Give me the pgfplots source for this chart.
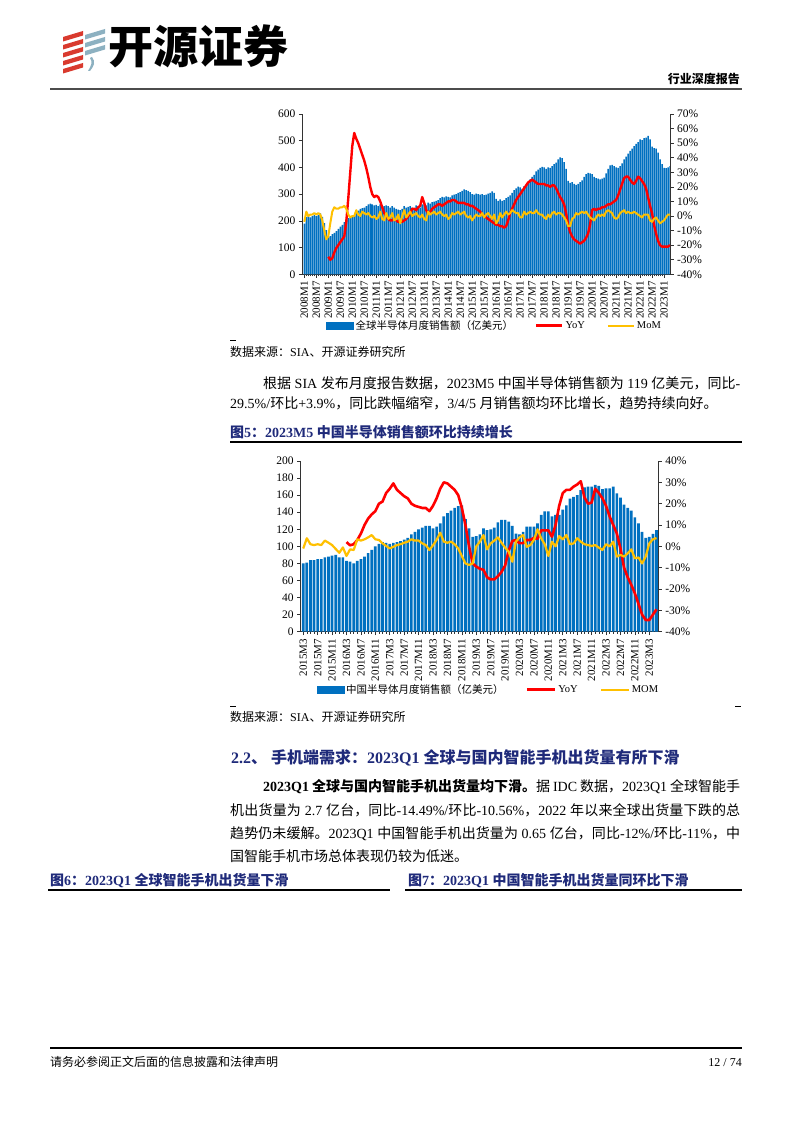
\documentclass[border=0pt]{standalone}
\usepackage{pgfplots}
\pgfplotsset{compat=1.18}
\usepackage{pgfplotstable}
\usepackage{fontspec}
\setmainfont{Liberation Serif}
\newfontfamily\cjk{Noto Sans CJK SC}
\newcommand\zh[1]{{\cjk #1}}
\newcommand\fs[1]{\fontsize{#1}{#1}\selectfont}
\XeTeXlinebreaklocale "zh"
\XeTeXlinebreakskip = 0pt plus 1pt
\definecolor{barblue}{HTML}{0070C0}
\definecolor{yoyred}{HTML}{FF0000}
\definecolor{momyel}{HTML}{FFC000}
\definecolor{navy}{HTML}{1F2A7A}
\definecolor{logored}{HTML}{D93A2E}
\definecolor{logoblue}{HTML}{8DB1C1}

\pgfplotstableread[row sep=\\]{
i s y m\\
0 190 nan -4\\ 1 215 nan 3\\ 2 218 nan 0\\ 3 213 nan 1\\ 4 218 nan 1\\ 5 222 nan 2\\ 6 218 nan 1\\ 7 222 nan 2\\ 8 228 nan 1\\ 9 215 nan -3\\ 10 192 nan -10\\ 11 165 nan -16\\
12 140 -28 -14\\ 13 143 -30 -5\\ 14 150 -29 3\\ 15 155 -25 6\\ 16 162 -22 5\\ 17 170 -20 5\\ 18 178 -18 6\\ 19 185 -16 6\\ 20 195 -14 7\\ 21 205 -4 5\\ 22 210 12 1\\ 23 218 30 -1\\
24 215 48 0\\ 25 220 57 0\\ 26 235 53 4\\ 27 238 50 1\\ 28 245 46 0\\ 29 248 42 3\\ 30 250 38 2\\ 31 255 33 1\\ 32 262 27 2\\ 33 265 20 0\\ 34 262 15 -1\\ 35 258 13 0\\
36 260 14 -2\\ 37 255 13 -1\\ 38 262 10 3\\ 39 258 6 -2\\ 40 255 2 -3\\ 41 258 0 2\\ 42 255 -2 -2\\ 43 250 -3 -1\\ 44 255 -3 2\\ 45 250 -2 -3\\ 46 245 -3 -2\\ 47 242 -4 1\\
48 240 -3 -5\\ 49 245 -4 0\\ 50 255 -3 4\\ 51 250 -2 -1\\ 52 252 0 1\\ 53 255 2 3\\ 54 250 5 0\\ 55 248 5 1\\ 56 258 4 2\\ 57 255 6 0\\ 58 250 7 -1\\ 59 262 13 1\\
60 262 9 -2\\ 61 258 4 -3\\ 62 268 2 3\\ 63 265 3 1\\ 64 270 5 2\\ 65 272 6 3\\ 66 275 7 1\\ 67 278 8 2\\ 68 285 8 3\\ 69 290 7 1\\ 70 288 8 0\\ 71 292 9 1\\
72 290 10 -2\\ 73 288 10 -1\\ 74 295 11 2\\ 75 298 11 1\\ 76 300 10 2\\ 77 305 9 3\\ 78 308 9 1\\ 79 312 9 2\\ 80 318 9 3\\ 81 315 8 0\\ 82 312 8 -1\\ 83 308 7 0\\
84 300 7 -3\\ 85 298 6 -1\\ 86 302 5 1\\ 87 300 4 0\\ 88 298 3 0\\ 89 300 1 2\\ 90 296 0 -1\\ 91 298 -1 1\\ 92 302 -2 2\\ 93 305 -3 0\\ 94 310 -4 -2\\ 95 305 -5 1\\
96 282 -6 -5\\ 97 275 -6 -3\\ 98 280 -7 2\\ 99 275 -7 -1\\ 100 278 -8 1\\ 101 285 -7 3\\ 102 290 -3 1\\ 103 295 2 2\\ 104 305 5 4\\ 105 315 8 3\\ 106 322 11 2\\ 107 328 13 2\\
108 325 15 -1\\ 109 320 17 -1\\ 110 330 19 3\\ 111 335 21 1\\ 112 345 23 2\\ 113 355 24 3\\ 114 365 25 2\\ 115 372 24 2\\ 116 385 23 4\\ 117 392 22 2\\ 118 398 22 1\\ 119 402 22 1\\
120 400 22 -1\\ 121 395 21 -2\\ 122 400 21 1\\ 123 398 20 -1\\ 124 405 21 2\\ 125 412 21 3\\ 126 418 19 1\\ 127 430 16 2\\ 128 438 13 2\\ 129 435 11 1\\ 130 420 8 -1\\ 131 395 2 -3\\
132 350 -6 -7\\ 133 342 -11 -7\\ 134 345 -14 -2\\ 135 338 -16 -1\\ 136 335 -17 2\\ 137 338 -18 1\\ 138 345 -19 2\\ 139 352 -18 3\\ 140 365 -17 2\\ 141 375 -15 3\\ 142 380 -12 1\\ 143 378 -6 -1\\
144 375 4 -2\\ 145 365 5 -3\\ 146 360 4 -1\\ 147 358 5 1\\ 148 355 5 0\\ 149 358 6 1\\ 150 362 6 0\\ 151 378 7 3\\ 152 395 8 4\\ 153 408 8 3\\ 154 410 9 2\\ 155 405 10 -1\\
156 400 11 -2\\ 157 398 14 -1\\ 158 405 18 2\\ 159 415 22 3\\ 160 430 26 4\\ 161 440 27 2\\ 162 452 27 3\\ 163 462 25 2\\ 164 470 23 2\\ 165 480 22 3\\ 166 488 24 2\\ 167 495 27 1\\
168 505 26 0\\ 169 502 24 -1\\ 170 510 22 1\\ 171 512 19 1\\ 172 518 13 1\\ 173 505 7 -3\\ 174 478 2 -4\\ 175 472 -6 -2\\ 176 470 -12 -1\\ 177 455 -17 -3\\ 178 430 -20 -5\\ 179 412 -21 -4\\
180 398 -21 -3\\ 181 397 -21 -1\\ 182 400 -21 1\\ 183 405 -20 1\\
}\glob

\pgfplotstableread[row sep=\\]{
i s y m\\
0 80 nan -1\\ 1 81 nan 3.8\\ 2 84 nan 1\\ 3 84 nan 0.6\\ 4 85 nan 1\\ 5 85 nan 0.6\\ 6 87 nan 2.7\\ 7 88 nan 1.7\\ 8 89 nan 0.6\\ 9 90 nan -1.2\\ 10 87 nan -3\\ 11 87 nan -0.5\\
12 83 2 -4.5\\ 13 82 0.5 -1.4\\ 14 80 1 -1.7\\ 15 83 3 3.3\\ 16 85 6 2.7\\ 17 88 10 3.3\\ 18 92 13 4.2\\ 19 96 15 5.3\\ 20 100 16.5 3.3\\ 21 103 20 3\\ 22 105 21 1.4\\ 23 104 25 0.2\\
24 103 27 -1\\ 25 104 29.5 -0.2\\ 26 105 26.5 0.6\\ 27 106 25 1\\ 28 108 23.5 1.7\\ 29 110 22.5 2.2\\ 30 114 20 3.3\\ 31 117 19 2.7\\ 32 120 18.5 2.7\\ 33 122 18 1.4\\ 34 124 18 0.6\\ 35 124 16.5 -1.7\\
36 121 19 0.5\\ 37 123 22.5 3\\ 38 127 27 6.4\\ 39 135 30 2.2\\ 40 139 29.5 1.7\\ 41 142 28 2.2\\ 42 145 26.5 1\\ 43 147 24 -1\\ 44 148 18 -4.5\\ 45 132 10 -8\\ 46 121 0 -8.7\\ 47 111 -8 -8\\
48 112 -9.5 0\\ 49 114 -10.5 2.2\\ 50 121 -11 5.3\\ 51 119 -14.5 -1.4\\ 52 120 -15.5 1.4\\ 53 122 -15.5 2.7\\ 54 128 -14 4.2\\ 55 131 -12 1.7\\ 56 131 -9 -0.6\\ 57 129 -2 -2.5\\ 58 124 2.5 -7.2\\ 59 115 3 2.2\\
60 114 1.5 4.2\\ 61 117 1.5 5.3\\ 62 123 3 -0.2\\ 63 123 3 0.6\\ 64 123 4 3\\ 65 127 3.5 8\\ 66 137 7.5 3.8\\ 67 141 7.5 1\\ 68 141 7.5 -4.5\\ 69 135 4.5 2.2\\ 70 137 10 0\\ 71 137 19 4.8\\
72 143 25 3.3\\ 73 148 26.5 5.3\\ 74 156 26.5 1\\ 75 158 28 1.4\\ 76 160 29 3.8\\ 77 166 30.5 2.2\\ 78 169 23 1\\ 79 170 20 0.6\\ 80 170 20.5 0.2\\ 81 172 27 0.6\\ 82 171 25 -0.6\\ 83 167 22.5 -1.7\\
84 168 19 1\\ 85 168 14 0\\ 86 170 10 2.2\\ 87 162 6 -4.8\\ 88 157 -1 -4\\ 89 149 -10 -4.8\\ 90 145 -14.5 -3.3\\ 91 142 -18 -1.4\\ 92 134 -22 -5.6\\ 93 127 -27 -5.2\\ 94 117 -32 -8\\ 95 110 -34.5 -4.8\\
96 111 -34.5 1.4\\ 97 114.6 -32 3.3\\ 98 119 -29.5 3.9\\
}\china

\pgfplotsset{
  pagechart/.style={
    scale only axis, anchor=south west,
    y tick label style={font=\fs{11.5}},
    x tick label style={font=\fs{11}},
    /pgf/number format/assume math mode=true,
    axis line style={black!80, line width=0.8pt},
    tick style={black!80, line width=0.6pt},
    major tick length=3.5pt,
    tick align=outside,
    unbounded coords=jump,
  }
}

\begin{document}
\begin{tikzpicture}[x=1pt,y=1pt]
\fill[white] (0,0) rectangle (794,-1123);
\useasboundingbox (0,0) rectangle (794,-1123);

% ---------- header ----------
\foreach \k in {0,1,2,3,4} {
  \fill[logored] (63,{-37-8*\k}) -- (83,{-31-8*\k}) -- (83,{-35.5-8*\k}) -- (63,{-41.5-8*\k}) -- cycle;
}
\foreach \k in {0,1,2} {
  \fill[logoblue] (85,{-35-8*\k}) -- (105,{-29-8*\k}) -- (105,{-33.5-8*\k}) -- (85,{-39.5-8*\k}) -- cycle;
}
\fill[logoblue] (92,-57) .. controls (96,-62) and (94,-66) .. (90,-71) -- (88,-71) .. controls (91,-66) and (93,-62) .. (90,-58) -- cycle;
\node[anchor=base west,inner sep=0] at (108,-64) {\cjk\bfseries\fs{45}开源证券};
\node[anchor=base east,inner sep=0] at (740,-84) {\cjk\bfseries\fs{12}行业深度报告};
\draw[line width=1.5pt,black!70] (50,-89) -- (742,-89);

% ---------- chart 1 ----------
\begin{axis}[pagechart, at={(302.3pt,-274.3pt)}, width=367.7pt, height=160.3pt,
  xmin=-1, xmax=183, ymin=0, ymax=600, ytick={0,100,...,600},
  axis x line*=bottom, axis y line*=left,
  xtick={0,6,...,180},
  xticklabels={2008M1,2008M7,2009M1,2009M7,2010M1,2010M7,2011M1,2011M7,2012M1,2012M7,2013M1,2013M7,2014M1,2014M7,2015M1,2015M7,2016M1,2016M7,2017M1,2017M7,2018M1,2018M7,2019M1,2019M7,2020M1,2020M7,2021M1,2021M7,2022M1,2022M7,2023M1},
  x tick label style={rotate=90, anchor=east},
  minor x tick num=5, minor tick length=2pt]
\addplot[ybar, bar width=1.5pt, fill=barblue, draw=none] table[x=i,y=s]{\glob};
\end{axis}
\begin{axis}[pagechart, at={(302.3pt,-274.3pt)}, width=367.7pt, height=160.3pt,
  xmin=-1, xmax=183, ymin=-40, ymax=70, ytick={-40,-30,...,70},
  yticklabel={\pgfmathprintnumber{\tick}\%},
  axis y line*=right, axis x line=none,
  legend style={at={(0.523,-0.32)}, anchor=center, legend columns=3, draw=none, fill=none,
    font=\fs{10.5}, inner sep=0pt, /tikz/every even column/.append style={column sep=20pt}},
  legend image code/.code={\draw[#1] (0pt,0pt) -- (26pt,0pt);}]
\addlegendimage{legend image code/.code={\fill[barblue] (0pt,-3.5pt) rectangle (27pt,3.5pt);}}
\addlegendentry{\zh{全球半导体月度销售额（亿美元）}}
\addplot[yoyred, line width=2.4pt, line join=round] table[x=i,y=y]{\glob};
\addlegendentry{YoY}
\addplot[momyel, line width=2pt, line join=round] table[x=i,y=m]{\glob};
\addlegendentry{MoM}
\end{axis}

\draw[black, line width=0.8pt] (230,-340) -- (236,-340);
\node[anchor=base west,inner sep=0] at (230,-356) {\fs{12}\zh{数据来源：}SIA\zh{、开源证券研究所}};

\node[anchor=base west,inner sep=0] at (263,-388) {\parbox[b]{477pt}{\fs{14}\parfillskip=0pt \zh{根据} SIA \zh{发布月度报告数据，}2023M5 \zh{中国半导体销售额为} 119 \zh{亿美元，同比}-}};
\node[anchor=base west,inner sep=0] at (230,-408) {\fs{14}29.5\%/\zh{环比}+3.9\%\zh{，同比跌幅缩窄，}3/4/5 \zh{月销售额均环比增长，趋势持续向好。}};

\node[anchor=base west,inner sep=0] at (230,-437) {\color{navy}\bfseries\fs{14}\zh{图}5\zh{：}2023M5 \zh{中国半导体销售额环比持续增长}};
\draw[line width=1.2pt,black] (230,-442) -- (742,-442);

% ---------- chart 2 ----------
\begin{axis}[pagechart, at={(300.7pt,-631.7pt)}, width=357.6pt, height=170.7pt,
  xmin=-0.7, xmax=98.5, ymin=0, ymax=200, ytick={0,20,...,200},
  axis x line*=bottom, axis y line*=left,
  xtick={0,4,...,96},
  xticklabels={2015M3,2015M7,2015M11,2016M3,2016M7,2016M11,2017M3,2017M7,2017M11,2018M3,2018M7,2018M11,2019M3,2019M7,2019M11,2020M3,2020M7,2020M11,2021M3,2021M7,2021M11,2022M3,2022M7,2022M11,2023M3},
  x tick label style={rotate=90, anchor=east},
  minor x tick num=3, minor tick length=2pt]
\addplot[ybar, bar width=2.7pt, fill=barblue, draw=none] table[x=i,y=s]{\china};
\end{axis}
\begin{axis}[pagechart, at={(300.7pt,-631.7pt)}, width=357.6pt, height=170.7pt,
  xmin=-0.7, xmax=98.5, ymin=-40, ymax=40, ytick={-40,-30,...,40},
  yticklabel={\pgfmathprintnumber{\tick}\%},
  axis y line*=right, axis x line=none,
  legend style={at={(0.525,-0.34)}, anchor=center, legend columns=3, draw=none, fill=none,
    font=\fs{10.5}, inner sep=0pt, /tikz/every even column/.append style={column sep=20pt}},
  legend image code/.code={\draw[#1] (0pt,0pt) -- (28pt,0pt);}]
\addlegendimage{legend image code/.code={\fill[barblue] (0pt,-3.5pt) rectangle (27pt,3.5pt);}}
\addlegendentry{\zh{中国半导体月度销售额（亿美元）}}
\addplot[yoyred, line width=2.6pt, line join=round] table[x=i,y=y]{\china};
\addlegendentry{YoY}
\addplot[momyel, line width=2.2pt, line join=round] table[x=i,y=m]{\china};
\addlegendentry{MOM}
\end{axis}

\draw[black, line width=0.8pt] (230,-706) -- (236,-706);
\draw[black, line width=0.8pt] (735,-706) -- (741,-706);
\node[anchor=base west,inner sep=0] at (230,-721) {\fs{12}\zh{数据来源：}SIA\zh{、开源证券研究所}};

% ---------- section 2.2 ----------
\node[anchor=base west,inner sep=0] at (231,-763) {\color{navy}\bfseries\fs{16}2.2\zh{、} \zh{手机端需求：}2023Q1 \zh{全球与国内智能手机出货量有所下滑}};

\node[anchor=base west,inner sep=0] at (263,-791) {\parbox[b]{477pt}{\fs{14}\parfillskip=0pt {\bfseries 2023Q1 \zh{全球与国内智能手机出货量均下滑。}}\zh{据} IDC \zh{数据，}2023Q1 \zh{全球智能手}}};
\node[anchor=base west,inner sep=0] at (230,-815) {\parbox[b]{510pt}{\fs{14}\parfillskip=0pt \zh{机出货量为} 2.7 \zh{亿台，同比}-14.49\%/\zh{环比}-10.56\%\zh{，}2022 \zh{年以来全球出货量下跌的总}}};
\node[anchor=base west,inner sep=0] at (230,-838) {\parbox[b]{510pt}{\fs{14}\parfillskip=0pt \zh{趋势仍未缓解。}2023Q1 \zh{中国智能手机出货量为} 0.65 \zh{亿台，同比}-12\%/\zh{环比}-11\%\zh{，中}}};
\node[anchor=base west,inner sep=0] at (230,-861) {\fs{14}\zh{国智能手机市场总体表现仍较为低迷。}};

\node[anchor=base west,inner sep=0] at (50,-885) {\color{navy}\bfseries\fs{14}\zh{图}6\zh{：}2023Q1 \zh{全球智能手机出货量下滑}};
\draw[line width=1.2pt,black] (48,-890) -- (390,-890);
\node[anchor=base west,inner sep=0] at (408,-885) {\color{navy}\bfseries\fs{14}\zh{图}7\zh{：}2023Q1 \zh{中国智能手机出货量同环比下滑}};
\draw[line width=1.2pt,black] (405,-890) -- (742,-890);

% ---------- footer ----------
\draw[line width=1.2pt,black] (50,-1048) -- (742,-1048);
\node[anchor=base west,inner sep=0] at (50,-1066) {\fs{12}\zh{请务必参阅正文后面的信息披露和法律声明}};
\node[anchor=base east,inner sep=0] at (742,-1066) {\fs{12}12 / 74};
\end{tikzpicture}
\end{document}
